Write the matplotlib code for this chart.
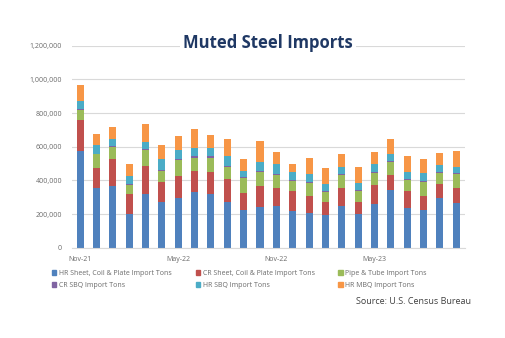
# Import libraries
import numpy as np
import matplotlib
matplotlib.use("Agg")
import matplotlib.pyplot as plt
from matplotlib.ticker import FuncFormatter
from matplotlib.patches import Patch

plt.rcParams['font.family'] = ['Open Sans', 'DejaVu Sans']

# 月份 (Nov-21 ~ Oct-23)
months = ['Nov-21', 'Dec-21', 'Jan-22', 'Feb-22', 'Mar-22', 'Apr-22',
          'May-22', 'Jun-22', 'Jul-22', 'Aug-22', 'Sep-22', 'Oct-22',
          'Nov-22', 'Dec-22', 'Jan-23', 'Feb-23', 'Mar-23', 'Apr-23',
          'May-23', 'Jun-23', 'Jul-23', 'Aug-23', 'Sep-23', 'Oct-23']
tick_labels = ['Nov-21', 'May-22', 'Nov-22', 'May-23']

# 各品項進口噸數 (估計值)
hr_sheet = [576000, 354000, 366000, 202000, 317000, 271000, 297000, 331000,
            321000, 271000, 222000, 242000, 248000, 220000, 206000, 194000,
            246000, 203000, 261000, 342000, 235000, 223000, 298000, 265000]
cr_sheet = [182000, 121000, 159000, 115000, 166000, 119000, 129000, 122000,
            129000, 135000, 103000, 122000, 106000, 115000, 99000, 75000,
            108000, 68000, 109000, 89000, 104000, 85000, 82000, 90000]
pipe_tube = [60000, 79000, 73000, 53000, 95000, 65000, 97000, 82000,
             85000, 73000, 87000, 86000, 80000, 59000, 79000, 60000,
             76000, 63000, 76000, 77000, 62000, 80000, 65000, 82000]
cr_sbq = [5000, 4000, 5000, 6000, 6000, 7000, 6000, 8000,
          8000, 8000, 6000, 5000, 6000, 6000, 6000, 6000,
          6000, 6000, 5000, 7000, 10000, 6000, 6000, 6000]
hr_sbq = [50000, 50000, 44000, 48000, 44000, 67000, 49000, 51000,
          51000, 58000, 37000, 54000, 55000, 48000, 48000, 45000,
          43000, 46000, 46000, 41000, 39000, 47000, 39000, 37000]
hr_mbq = [93000, 65000, 72000, 75000, 107000, 79000, 83000, 111000,
          77000, 99000, 70000, 125000, 71000, 51000, 93000, 93000,
          77000, 91000, 71000, 87000, 97000, 86000, 71000, 97000]

series = [
    ('HR Sheet, Coil & Plate Import Tons', hr_sheet, '#4F81BD'),
    ('CR Sheet, Coil & Plate Import Tons', cr_sheet, '#C0504D'),
    ('Pipe & Tube Import Tons', pipe_tube, '#9BBB59'),
    ('CR SBQ Import Tons', cr_sbq, '#8064A2'),
    ('HR SBQ Import Tons', hr_sbq, '#4BACC6'),
    ('HR MBQ Import Tons', hr_mbq, '#F79646'),
]

fig = plt.figure(figsize=(5.06, 3.38), dpi=100)
ax = fig.add_axes([0.142, 0.267, 0.776, 0.598])

x = np.arange(len(months))
bottom = np.zeros(len(months))
handles = []
for name, vals, color in series:
    ax.bar(x, vals, width=0.43, bottom=bottom, color=color, zorder=2)
    bottom += np.array(vals)
    handles.append(Patch(color=color, label=name))

ax.set_xlim(-0.5, len(months) - 0.5)
ax.set_ylim(0, 1200000)
ax.set_yticks(np.arange(0, 1200001, 200000))
ax.yaxis.set_major_formatter(FuncFormatter(lambda v, p: f'{int(v):,}'))
ax.set_xticks([months.index(m) for m in tick_labels])
ax.set_xticklabels(tick_labels)
ax.grid(axis='y', color='#D9D9D9', linewidth=0.8, zorder=0)
ax.tick_params(length=0, labelsize=5, labelcolor='#6B6B6B')
ax.tick_params(axis='y', pad=7)
ax.tick_params(axis='x', pad=6)
for s in ['top', 'right', 'left']:
    ax.spines[s].set_visible(False)
ax.spines['bottom'].set_color('#D9D9D9')

# 標題
ax.text(0.5, 1.014, 'Muted Steel Imports', transform=ax.transAxes,
        ha='center', va='center', fontsize=12, fontweight='bold',
        color='#1F3864', zorder=5,
        bbox=dict(facecolor='white', edgecolor='none', pad=2))

# 圖例 (兩列三欄, 每欄一個 legend)
col_x = [0.096, 0.381, 0.662]
for c in range(3):
    pair = [c, c + 3]
    leg = fig.legend([handles[i] for i in pair], [series[i][0] for i in pair],
                     loc='upper left', bbox_to_anchor=(col_x[c], 0.212),
                     frameon=False, fontsize=5, labelcolor='#6B6B6B',
                     handlelength=0.6, handleheight=0.6, handletextpad=0.4,
                     labelspacing=0.75, borderpad=0)

fig.text(0.931, 0.107, 'Source: U.S. Census Bureau', ha='right', va='center',
         fontsize=6.5, color='#404040')

plt.savefig('out.png', dpi=100)
